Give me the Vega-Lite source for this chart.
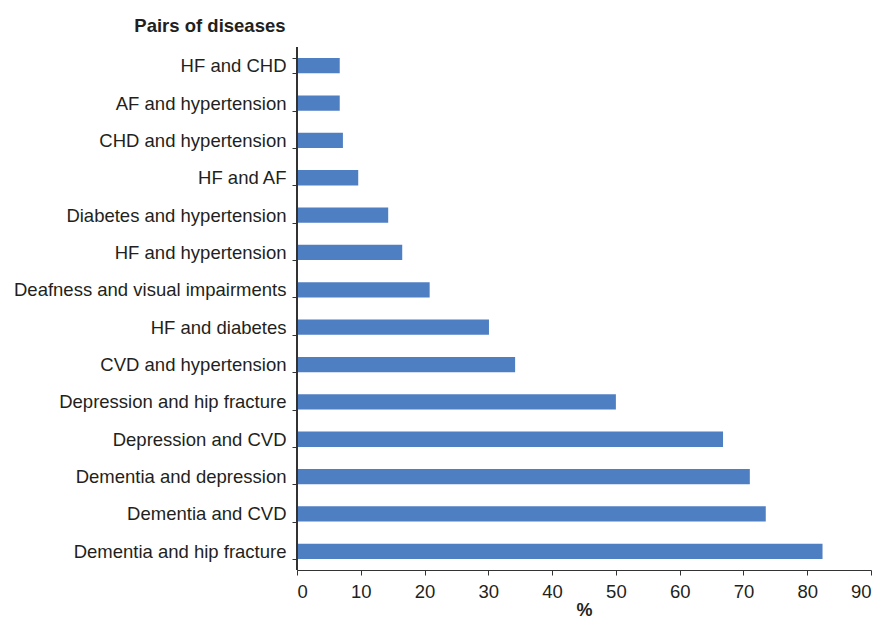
{
  "$schema": "https://vega.github.io/schema/vega-lite/v6.json",
  "autosize": "none",
  "width": 574,
  "height": 523,
  "padding": {"left": 297, "top": 47, "right": 12, "bottom": 48},
  "background": "white",
  "config": {
    "view": {"stroke": null},
    "font": "Liberation Sans",
    "axis": {"labelFont": "Liberation Sans", "titleFont": "Liberation Sans", "labelColor": "#231F20", "titleColor": "#231F20", "domainColor": "#333333", "tickColor": "#333333", "grid": false}
  },
  "data": {
    "values": [
      {"pair": "HF and CHD", "pct": 6.7},
      {"pair": "AF and hypertension", "pct": 6.7},
      {"pair": "CHD and hypertension", "pct": 7.2},
      {"pair": "HF and AF", "pct": 9.6},
      {"pair": "Diabetes and hypertension", "pct": 14.3},
      {"pair": "HF and hypertension", "pct": 16.5},
      {"pair": "Deafness and visual impairments", "pct": 20.8},
      {"pair": "HF and diabetes", "pct": 30.1},
      {"pair": "CVD and hypertension", "pct": 34.2},
      {"pair": "Depression and hip fracture", "pct": 50.0},
      {"pair": "Depression and CVD", "pct": 66.8},
      {"pair": "Dementia and depression", "pct": 71.0},
      {"pair": "Dementia and CVD", "pct": 73.5},
      {"pair": "Dementia and hip fracture", "pct": 82.4}
    ]
  },
  "layer": [
    {
      "mark": {"type": "bar", "color": "#4F7FC3"},
      "encoding": {
        "y": {
          "field": "pair",
          "type": "nominal",
          "sort": null,
          "scale": {"paddingInner": 0.59, "paddingOuter": 0.295},
          "axis": {
            "title": "Pairs of diseases",
            "titleAngle": 0,
            "titleAlign": "right",
            "titleBaseline": "alphabetic",
            "titleX": -12,
            "titleY": -16,
            "titleFontSize": 18.5,
            "titleFontWeight": "bold",
            "labelFontSize": 18.5,
            "labelPadding": 6,
            "domain": true,
            "domainColor": "#333333",
            "domainWidth": 1,
            "ticks": true,
            "tickBand": "extent",
            "tickSize": 5,
            "labelLimit": 400
          }
        },
        "x": {
          "field": "pct",
          "type": "quantitative",
          "scale": {"domain": [0, 90], "nice": false},
          "axis": {
            "title": "%",
            "values": [0, 10, 20, 30, 40, 50, 60, 70, 80, 90],
            "labelFontSize": 18.5,
            "tickSize": 5,
            "labelPadding": 7,
            "titleFontSize": 18,
            "titleFontWeight": "bold",
            "titleBaseline": "alphabetic",
            "titleY": 45
          }
        }
      }
    },
    {
      "mark": {"type": "rule", "color": "#333333", "strokeWidth": 1},
      "encoding": {"x": {"datum": 0}}
    }
  ]
}
